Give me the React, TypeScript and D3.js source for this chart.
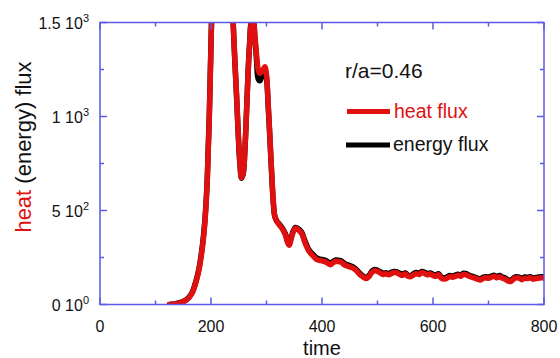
import React from "react";
import * as d3 from "d3";

const W = 560;
const H = 358;

const time = [125,135,145,155,165,172,178,183,187,190,193,195,197,199,201,203,215,228,236,240,243,246,249,252,255,258,261,264,267,270,273,276,279,282,285,288,291,294,297,300,303,306,309,312,315,319,324,329,334,338,341,344,348,352,356,360,364,368,372,376,380,385,390,395,400,405,410,415,420,425,430,435,440,445,450,455,460,465,470,475,480,485,490,495,500,505,510,515,520,525,530,535,540,545,550,555,560,565,570,575,580,585,590,595,600,605,610,615,620,625,630,635,640,645,650,655,660,665,670,675,680,685,690,695,700,705,710,715,720,725,730,735,740,745,750,755,760,765,770,775,780,785,790,795,800];

const heatFlux = [0,3,10,22,55,110,180,270,370,480,640,820,1000,1250,1500,1800,2600,2400,1800,1500,1300,1120,920,760,675,700,820,1020,1240,1400,1500,1510,1430,1330,1250,1230,1240,1250,1265,1220,1070,900,720,560,470,440,420,400,370,330,315,345,385,405,400,390,375,340,310,285,270,255,240,235,232,228,220,212,222,230,228,225,212,205,200,195,185,170,155,145,138,150,172,180,176,168,160,163,158,165,170,168,160,155,162,150,148,158,164,160,170,165,158,162,155,150,158,140,135,140,148,145,150,155,150,160,158,150,145,140,135,130,138,142,140,145,150,142,148,140,135,125,122,135,142,140,132,140,138,142,135,138,140,142,140];

const energyFlux = [0,3,11,24,58,115,186,278,380,490,652,832,1015,1265,1515,1815,2610,2390,1790,1490,1290,1110,910,752,672,695,818,1025,1248,1408,1505,1505,1418,1305,1200,1190,1210,1228,1245,1205,1058,890,712,555,468,442,425,405,376,336,321,350,390,410,405,396,381,348,318,293,278,263,248,242,239,236,228,219,229,237,235,232,219,212,207,201,191,176,161,150,143,156,178,186,182,174,166,169,164,171,176,174,166,161,168,156,154,164,170,166,176,171,164,168,161,156,164,146,141,146,154,151,156,161,156,166,164,156,151,146,141,136,144,148,146,151,156,148,154,146,141,131,128,141,148,146,138,146,144,148,141,144,146,148,146];

const xTicksMajor = [0, 200, 400, 600, 800];
const xTicksMinor = [100, 300, 500, 700];
const yTicksMajor = [0, 500, 1000, 1500];
const yTicksMinor = [250, 750, 1250];
const yTickMantissa = ["0 10", "5 10", "1 10", "1.5 10"];
const yTickExponent = ["0", "2", "3", "3"];

const AXIS = "#5a5ae6";
const RED = "#e01010";
const FONT = "'Liberation Sans', Arial, Helvetica, sans-serif";

export default function App() {
  const left = 100, right = 544, top = 22.5, bottom = 304.5;
  const x = d3.scaleLinear().domain([0, 800]).range([left, right]);
  const y = d3.scaleLinear().domain([0, 1500]).range([bottom, top]);

  const line = d3
    .line<number>()
    .x((_, i) => x(time[i]))
    .y((d) => y(d))
    .curve(d3.curveCatmullRom.alpha(0.5));

  const heatPath = line(heatFlux) || "";
  const energyPath = line(energyFlux) || "";

  return (
    <svg
      width={W}
      height={H}
      style={{ position: "absolute", left: 0, top: 0, background: "#fff" }}
      fontFamily={FONT}
    >
      <defs>
        <clipPath id="plotclip">
          <rect x={left} y={top} width={right - left} height={bottom - top} />
        </clipPath>
      </defs>

      {/* data lines */}
      <g clipPath="url(#plotclip)" fill="none" strokeLinejoin="round" strokeLinecap="round">
        <path d={energyPath} stroke="#000" strokeWidth={5.5} />
        <path d={heatPath} stroke={RED} strokeWidth={5.5} />
      </g>

      {/* frame */}
      <rect x={left} y={top} width={right - left} height={bottom - top} fill="none" stroke={AXIS} strokeWidth={1.5} />

      {/* x ticks */}
      {xTicksMajor.map((t) => (
        <g key={"xm" + t}>
          <line x1={x(t)} x2={x(t)} y1={bottom} y2={bottom - 7} stroke={AXIS} strokeWidth={1.5} />
          <line x1={x(t)} x2={x(t)} y1={top} y2={top + 7} stroke={AXIS} strokeWidth={1.5} />
          <text x={x(t)} y={332} textAnchor="middle" fontSize={16} fill="#111">
            {t}
          </text>
        </g>
      ))}
      {xTicksMinor.map((t) => (
        <g key={"xn" + t}>
          <line x1={x(t)} x2={x(t)} y1={bottom} y2={bottom - 4} stroke={AXIS} strokeWidth={1.5} />
          <line x1={x(t)} x2={x(t)} y1={top} y2={top + 4} stroke={AXIS} strokeWidth={1.5} />
        </g>
      ))}

      {/* y ticks */}
      {yTicksMajor.map((v, i) => (
        <g key={"ym" + v}>
          <line x1={left} x2={left + 7} y1={y(v)} y2={y(v)} stroke={AXIS} strokeWidth={1.5} />
          <line x1={right} x2={right - 7} y1={y(v)} y2={y(v)} stroke={AXIS} strokeWidth={1.5} />
          <text x={89} y={y(v) + 6} textAnchor="end" fontSize={16} fill="#111">
            {yTickMantissa[i]}
            <tspan fontSize={11} dy={-7}>{yTickExponent[i]}</tspan>
          </text>
        </g>
      ))}
      {yTicksMinor.map((v) => (
        <g key={"yn" + v}>
          <line x1={left} x2={left + 4} y1={y(v)} y2={y(v)} stroke={AXIS} strokeWidth={1.5} />
          <line x1={right} x2={right - 4} y1={y(v)} y2={y(v)} stroke={AXIS} strokeWidth={1.5} />
        </g>
      ))}

      {/* axis titles */}
      <text x={(left + right) / 2} y={355} textAnchor="middle" fontSize={20} fill="#111">
        time
      </text>
      <text transform="translate(31,147) rotate(-90)" textAnchor="middle" fontSize={22} fill="#111">
        <tspan fill={RED}>heat</tspan> (energy) flux
      </text>

      {/* annotation & legend */}
      <text x={345} y={78} fontSize={21} fill="#111">r/a=0.46</text>
      <line x1={347} x2={390} y1={111.5} y2={111.5} stroke={RED} strokeWidth={5} />
      <text x={394} y={118} fontSize={19.5} fill={RED}>heat flux</text>
      <line x1={346} x2={390} y1={145} y2={145} stroke="#000" strokeWidth={5} />
      <text x={393} y={151} fontSize={19.5} fill="#111">energy flux</text>
    </svg>
  );
}
